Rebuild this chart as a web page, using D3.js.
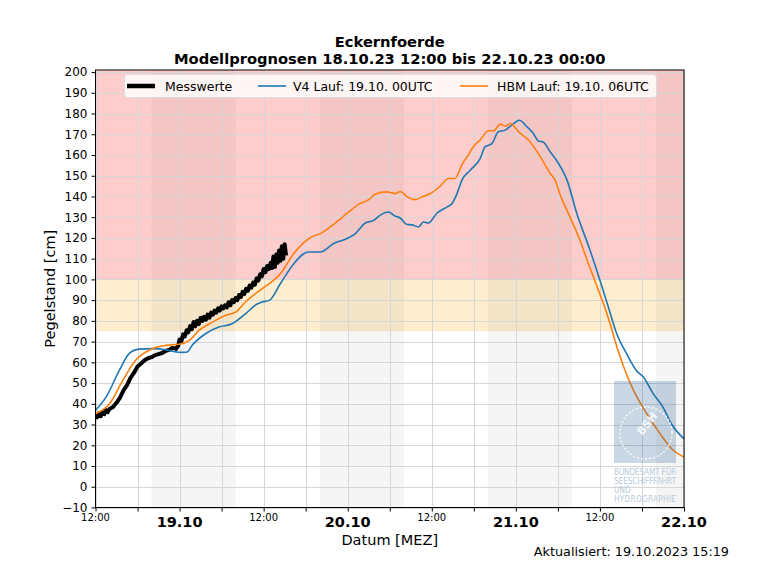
<!DOCTYPE html>
<html><head><meta charset="utf-8">
<script src="https://cdn.jsdelivr.net/npm/d3@7"></script>
<style>
html,body{margin:0;padding:0;background:#fff;}
text{font-family:"DejaVu Sans",sans-serif;}
</style></head>
<body><svg id="c" width="760" height="570"></svg>
<script>
// ---- data (hours after 18.10.23 12:00) ----
const messHours = [0,0.25,0.5,0.75,1,1.25,1.5,1.75,2,2.5,3,3.5,4,4.5,5,5.5,6,6.5,7,7.5,8,8.5,9,9.5,10,10.5,11,11.5,11.8,12,12.25,12.5,12.75,13,13.25,13.5,13.75,14,14.25,14.5,14.75,15,15.25,15.5,15.75,16,16.25,16.5,16.75,17,17.25,17.5,17.75,18,18.25,18.5,18.75,19,19.25,19.5,19.75,20,20.25,20.5,20.75,21,21.25,21.5,21.75,22,22.25,22.5,22.75,23,23.25,23.5,23.75,24,24.25,24.5,24.75,25,25.2,25.4,25.6,25.8,26,26.2,26.4,26.6,26.8,27,27.2];
const messValues = [35,33.5,35.5,34,36,35,37,36,37.5,38.5,40.5,43,46.5,49,52.5,55,58,59.5,61,62,62.5,63.5,64,64.5,65.5,66,67,66.5,68,71,70,73.5,72.5,75.5,74.5,77.5,76,79.5,77.5,80,78.5,81.5,80,82,80.5,83,81.5,84,83,85,84,86,85,87,86,87.5,86.5,89,87.5,90,89,91,90,92.5,91.5,94,93,95.5,94.5,97,96,98.5,97.5,100.5,99.5,102.5,101.5,105,103.5,106.5,105,108,105.5,111,106,112,108,114,109,116,110,117,111.5,118,113];

const v4Hours = [0,1.5,3.4,4.8,6.2,8.1,10,11.5,12.5,13.1,13.8,15.7,17.6,19.5,21.4,23,23.8,24.8,26.4,28.3,30.4,32.1,34,35.9,37.1,38.5,39.7,40.6,41.8,42.8,43.5,44.4,45.2,46.1,46.8,47.5,48.7,50.2,50.9,51.6,52.3,53.5,54.9,55.6,56.6,57.5,58.5,59.4,60.5,61.6,62.5,63.2,63.9,64.9,65.8,67,67.3,68.7,70.6,72,73.2,74.4,75.8,77.2,78.2,79.6,81,82.2,84];
const v4Values = [36.8,43.2,56.1,64.2,66.4,66.6,66.1,65,64.8,65,68.2,73.8,77,78.6,83.4,88,89.1,89.9,98,107.6,113.2,113.2,117.3,119.7,122.1,127.2,128.5,130.9,132.5,130.5,129.6,126.6,126.3,125.3,127.7,127.2,131.8,135,136.6,141.4,147.9,152.7,158.3,163.9,165.6,171.2,172,174.4,176.8,173.6,170.4,166.8,166.3,161.5,157.5,150.3,147.9,131.8,114,99.6,86.7,73.8,64.2,56.1,52.9,44.9,38.4,30.4,23.1];

const hbmHours = [0,2,3.9,5.7,8.1,10,11.9,13.4,14.8,16.7,18.6,20,21.4,23.8,25.7,26.4,28.3,30.7,32.1,34,35.9,37.6,39,39.9,41.6,42.8,43.5,44.5,45.6,46.8,47.8,49.2,50.4,51.3,52.4,53.2,53.9,54.9,56.1,56.8,57.8,58.5,59.2,60.4,61.8,63.5,64.9,65.6,66.3,67.2,68,69.2,70.2,71.2,73,74.9,76.8,78.7,80.6,82.5,84];
const hbmValues = [35.2,40,51.3,60.9,66.6,68.2,68.7,70.6,75.5,79.4,82.7,84.2,89.1,95.6,100.4,102.8,112.5,120.2,122.1,126.6,131.8,136.3,138.5,141.1,142.2,141.4,142.4,139.8,138.5,140.1,141.4,145,148.7,148.7,156,159.9,163.9,167.2,171.7,171.7,174.9,173.9,175.2,171.2,167.2,159.1,151.1,147.9,141,134,128,118.5,109,100,83.5,62.5,46.5,35.2,25.5,17.5,14.3];

const nightStart = [8,32,56,80];
const nightEnd = [20,44,68,84];
const xTickHours = [0,6,12,18,24,30,36,42,48,54,60,66,72,78,84];
const xLabelHours = [0,12,24,36,48,60,72,84];
const xLabels = ["12:00","19.10","12:00","20.10","12:00","21.10","12:00","22.10"];
const yTicks = d3.range(-10,201,10);
const warnLevels = [75,100];
const seriesNames = ["Messwerte","V4 Lauf: 19.10. 00UTC","HBM Lauf: 19.10. 06UTC"];
const logoLines = ["BUNDESAMT FÜR","SEESCHIFFFAHRT","UND","HYDROGRAPHIE"];

// ---- layout ----
const L=95.5,R=684,T=70,B=507.5;
const svg=d3.select("#c");
const x=d3.scaleLinear().domain([0,84]).range([L,R]);
const y=d3.scaleLinear().domain([-10,201]).range([B,T]);

// bands
svg.append("rect").attr("x",L).attr("width",R-L).attr("y",y(201)).attr("height",y(warnLevels[1])-y(201)).attr("fill","#fdcccc");
svg.append("rect").attr("x",L).attr("width",R-L).attr("y",y(warnLevels[1])).attr("height",y(warnLevels[0])-y(warnLevels[1])).attr("fill","#feedce");
nightStart.forEach((s,i)=>{
  svg.append("rect").attr("x",x(s)).attr("width",x(nightEnd[i])-x(s)).attr("y",T).attr("height",B-T)
    .attr("fill","#7f7f7f").attr("fill-opacity",0.075);
});

// grid
const grid=svg.append("g").attr("stroke","#d6d6d6").attr("stroke-width",1);
xTickHours.forEach(h=>grid.append("line").attr("x1",Math.round(x(h))+0.5).attr("x2",Math.round(x(h))+0.5).attr("y1",T).attr("y2",B));
yTicks.forEach(v=>grid.append("line").attr("x1",L).attr("x2",R).attr("y1",Math.round(y(v))+0.5).attr("y2",Math.round(y(v))+0.5));

// lines
svg.append("clipPath").attr("id","pc").append("rect").attr("x",L).attr("y",T).attr("width",R-L).attr("height",B-T);
const line=d3.line().x(d=>x(d[0])).y(d=>y(d[1]));
const g=svg.append("g").attr("clip-path","url(#pc)");
g.append("path").datum(messHours.map((h,i)=>[h,messValues[i]])).attr("d",line).attr("fill","none").attr("stroke","#000").attr("stroke-width",4).attr("stroke-linejoin","round");
const sm=d3.line().x(d=>x(d[0])).y(d=>y(d[1])).curve(d3.curveMonotoneX);
g.append("path").datum(v4Hours.map((h,i)=>[h,v4Values[i]])).attr("d",sm).attr("fill","none").attr("stroke","#1f77b4").attr("stroke-width",1.6);
g.append("path").datum(hbmHours.map((h,i)=>[h,hbmValues[i]])).attr("d",sm).attr("fill","none").attr("stroke","#ff7f0e").attr("stroke-width",1.6);

// logo
const lg=svg.append("g");
lg.append("rect").attr("x",614).attr("y",381).attr("width",62).attr("height",82).attr("fill","#2a6496").attr("fill-opacity",0.25);
lg.append("circle").attr("cx",646).attr("cy",433).attr("r",26).attr("fill","none").attr("stroke","#fff").attr("stroke-opacity",0.8).attr("stroke-width",1.5).attr("stroke-dasharray","1 3").attr("stroke-linecap","round");
lg.append("text").attr("transform","translate(650,426) rotate(-52)").attr("text-anchor","middle").attr("font-size",11).attr("font-weight","bold").attr("fill","#fff").attr("fill-opacity",0.85).text("BSH");
logoLines.forEach((t,i)=>{
  const tx=lg.append("text").attr("x",614).attr("y",474.5+i*9.3).attr("font-size",8.2).attr("font-family","'DejaVu Sans Condensed','Liberation Sans Narrow','DejaVu Sans'").attr("font-stretch","condensed").attr("fill","#b9cadb").text(t);
  if(t.length>5) tx.attr("textLength",62).attr("lengthAdjust","spacing");
});

// axes
const yAxis=d3.axisLeft(y).tickValues(yTicks).tickSize(4).tickPadding(4);
const ya=svg.append("g").attr("transform",`translate(${L},0)`).call(yAxis);
ya.select(".domain").remove();
ya.selectAll("text").attr("font-size",12).attr("fill","#000").attr("font-family","DejaVu Sans");
ya.selectAll("line").attr("stroke","#000");

const xAxis=d3.axisBottom(x).tickValues(xTickHours).tickSize(4).tickFormat(()=> "");
const xa=svg.append("g").attr("transform",`translate(0,${B})`).call(xAxis);
xa.select(".domain").remove();
xa.selectAll("line").attr("stroke","#000");
xLabelHours.forEach((h,i)=>{
  const major=xLabels[i].indexOf(":")<0;
  svg.append("text").attr("x",x(h)).attr("y",major?527:521).attr("text-anchor","middle")
    .attr("font-size",major?14.5:10).attr("font-weight",major?"bold":"normal").text(xLabels[i]);
});

// frame
svg.append("rect").attr("x",L).attr("y",T).attr("width",R-L).attr("height",B-T).attr("fill","none").attr("stroke","#000").attr("stroke-width",1);

// legend
const leg=svg.append("g");
leg.append("rect").attr("x",124.5).attr("y",74.5).attr("width",532).attr("height",23).attr("rx",3).attr("fill","#fff").attr("fill-opacity",0.8).attr("stroke","#ddd");
const legX=[127,258,460], legT=[165,293,497], legC=["#000","#1f77b4","#ff7f0e"], legW=[4.5,1.6,1.6];
seriesNames.forEach((n,i)=>{
  leg.append("line").attr("x1",legX[i]).attr("x2",legX[i]+28).attr("y1",86).attr("y2",86).attr("stroke",legC[i]).attr("stroke-width",legW[i]);
  leg.append("text").attr("x",legT[i]).attr("y",90.5).attr("font-size",12.5).text(n);
});

// titles
svg.append("text").attr("x",(L+R)/2).attr("y",46.5).attr("text-anchor","middle").attr("font-size",14.7).attr("font-weight","bold").text("Eckernfoerde");
svg.append("text").attr("x",(L+R)/2).attr("y",64).attr("text-anchor","middle").attr("font-size",14.7).attr("font-weight","bold").text("Modellprognosen 18.10.23 12:00 bis 22.10.23 00:00");
svg.append("text").attr("transform",`translate(55,${(T+B)/2}) rotate(-90)`).attr("text-anchor","middle").attr("font-size",14.5).text("Pegelstand [cm]");
svg.append("text").attr("x",(L+R)/2).attr("y",545).attr("text-anchor","middle").attr("font-size",14.5).text("Datum [MEZ]");
svg.append("text").attr("x",729).attr("y",556).attr("text-anchor","end").attr("font-size",12.8).text("Aktualisiert: 19.10.2023 15:19");
</script></body></html>
